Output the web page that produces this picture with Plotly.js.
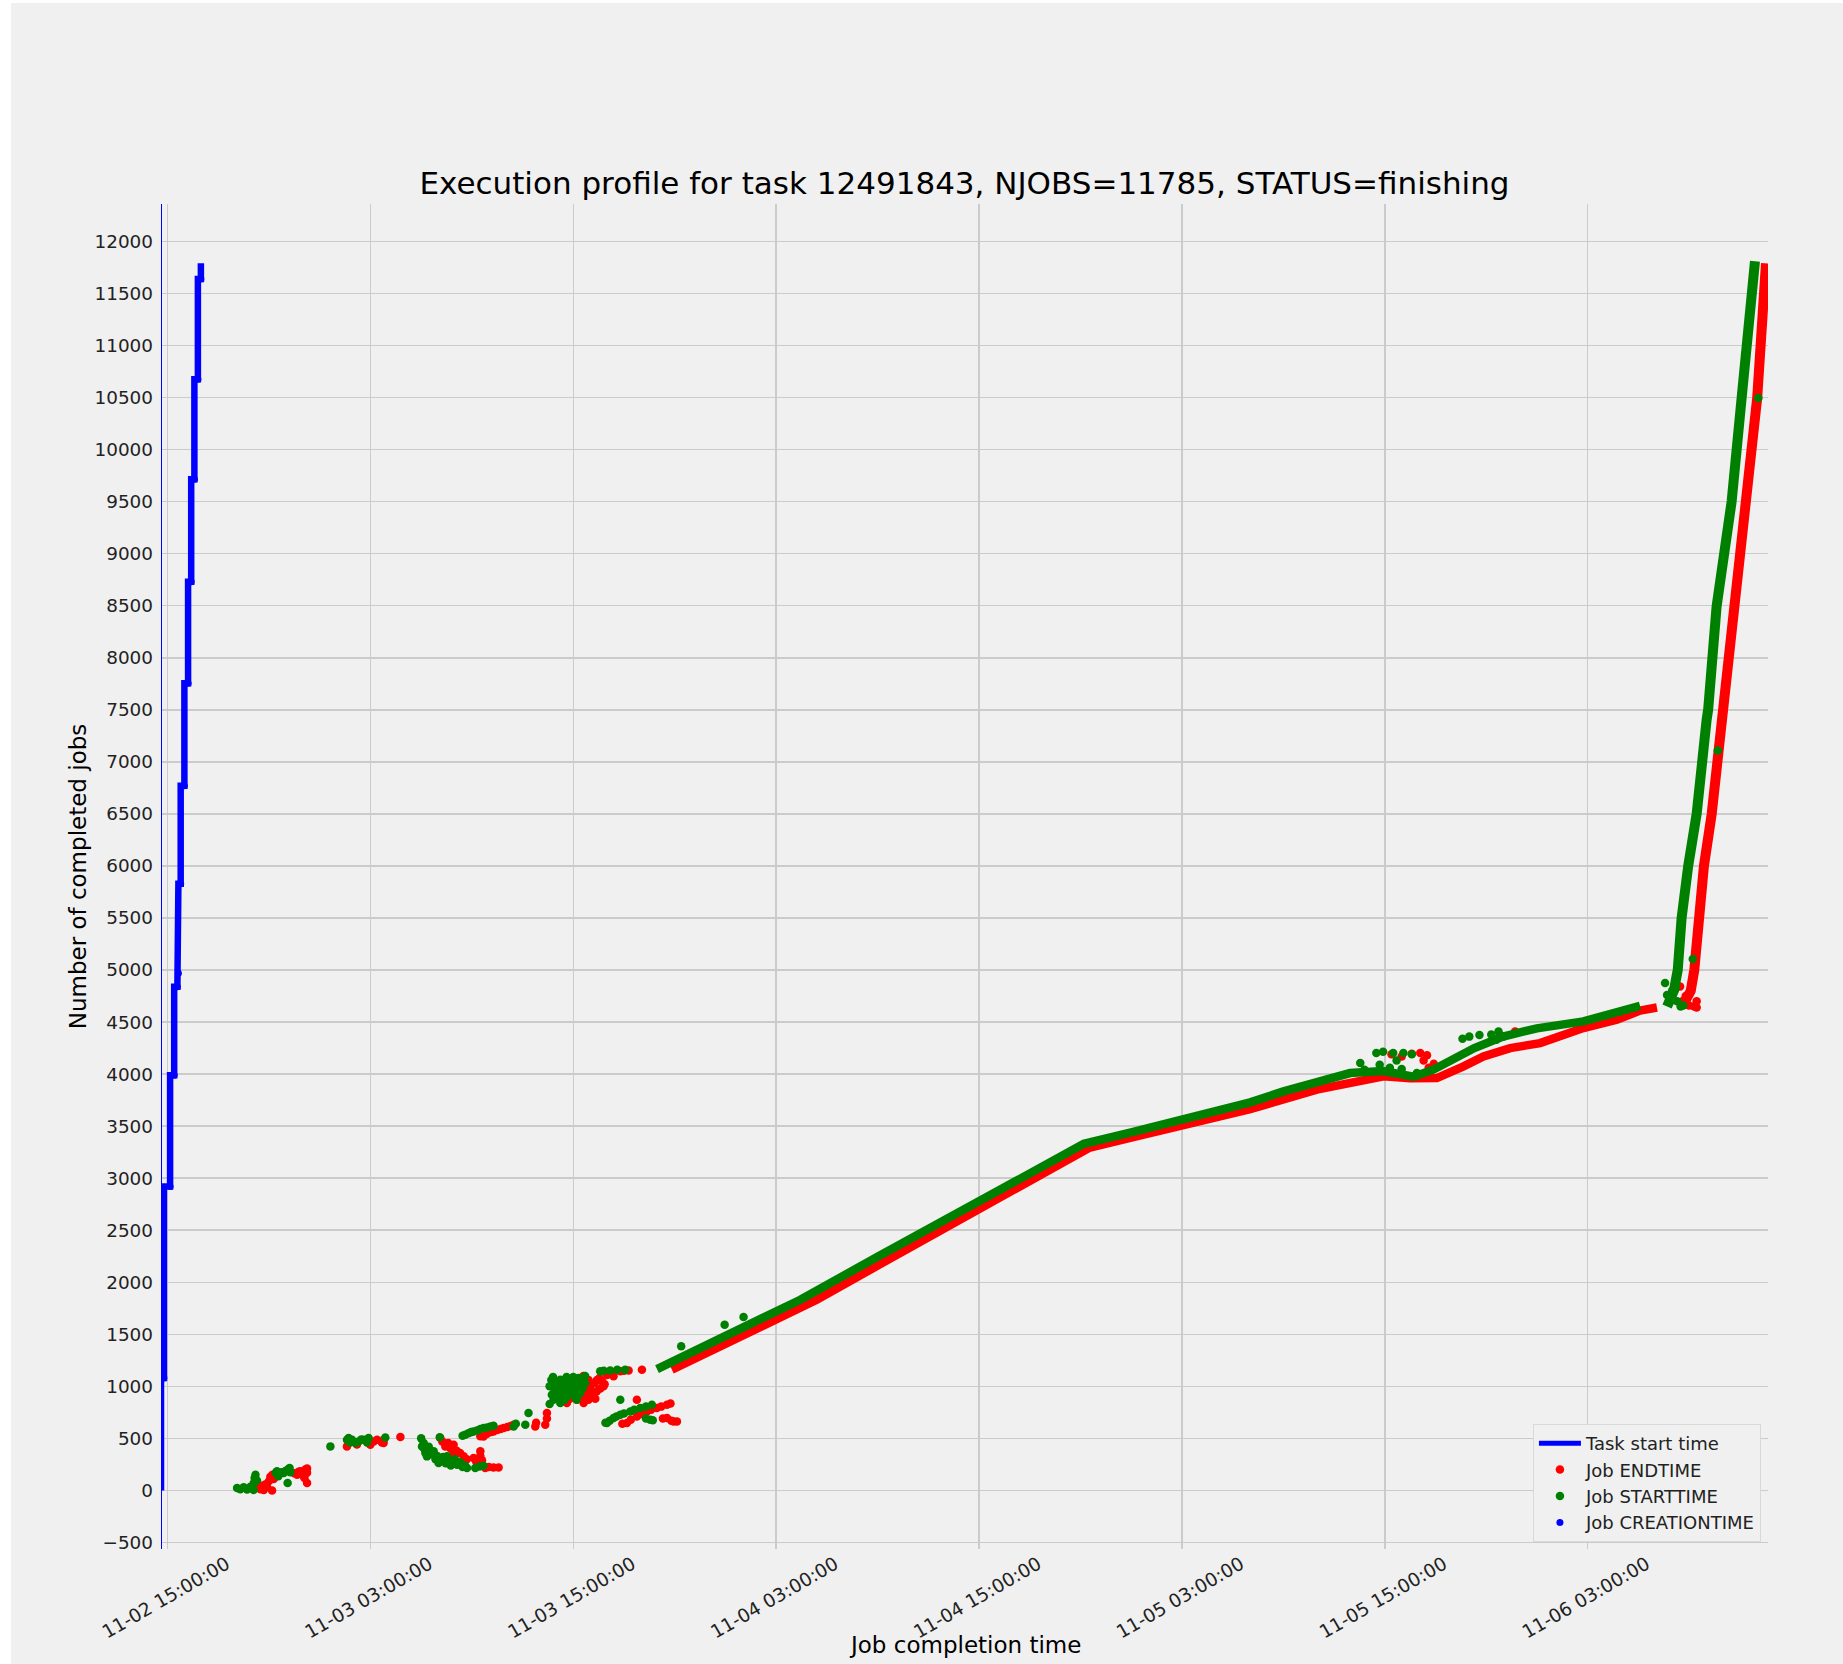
<!DOCTYPE html>
<html>
<head>
<meta charset="utf-8">
<script src="https://cdn.plot.ly/plotly-3.0.1.min.js"></script>
<style>
  html, body { margin: 0; padding: 0; background: #ffffff; overflow: hidden; }
  #chart { position: absolute; left: 11px; top: 3px; width: 1832px; height: 1661px; }
</style>
</head>
<body>
<div id="chart"></div>
<script>
// ---- time base: all times below are hours after 2018-11-02 15:00 ----
const BASE_TIME = Date.UTC(2018, 10, 2, 15, 0, 0);

// Task start time (hours)
const taskStartH = -0.39;

// Job CREATIONTIME: step positions (hours) and job-count boundaries
const creationStepH = [-0.39, -0.219, 0.148, 0.39, 0.58, 0.639, 0.775, 0.994, 1.212, 1.396, 1.585, 1.792, 1.969];
const creationStepJobs = [0, 1080, 2920, 3990, 4840, 4970, 5830, 6770, 7755, 8730, 9715, 10675, 11640, 11790];

// Job ENDTIME dense band (hours, jobs)
const endBandH    = [29.83, 34.0, 38.4, 42.0, 48.0, 52.0, 54.5, 57.0, 60.0, 64.04, 67.98, 71.93, 73.5, 75.08, 76.66, 77.84, 79.42, 81.19, 83.75, 85.73, 87.1, 88.1];
const endBandJobs = [1160, 1480, 1832, 2160, 2700, 3070, 3290, 3390, 3510, 3664, 3850, 3978, 3960, 3962, 4074, 4170, 4250, 4298, 4442, 4522, 4610, 4640];
const endClimbH    = [89.6, 90.1, 90.31, 90.54, 90.88, 91.34, 91.93, 92.07, 92.72, 93.37, 94.03, 94.55];
const endClimbJobs = [4650, 4800, 5000, 5500, 6000, 6500, 7405, 7502, 8494, 9503, 10496, 11790];

// Job STARTTIME dense band (hours, jobs)
const startBandH    = [28.95, 33.2, 37.43, 42.0, 48.0, 52.0, 54.2, 57.0, 60.0, 64.04, 66.01, 67.98, 69.95, 71.9, 73.7, 74.9, 76.3, 77.3, 79.0, 81.0, 83.75, 86.0, 87.1];
const startBandJobs = [1165, 1500, 1832, 2245, 2785, 3150, 3330, 3440, 3560, 3728, 3834, 3914, 4010, 4030, 3975, 4045, 4160, 4250, 4360, 4440, 4506, 4600, 4656];
const startClimbH    = [88.7, 89.1, 89.33, 89.56, 89.95, 90.45, 91.04, 91.13, 91.63, 92.52, 93.11, 93.9];
const startClimbJobs = [4650, 4800, 5000, 5500, 6000, 6500, 7405, 7502, 8494, 9503, 10496, 11810];

// Scattered ENDTIME points (hours, jobs)
const endDotsH = [
  5.40, 5.50, 5.60, 5.69, 5.80, 5.88, 6.00, 6.08, 6.18, 6.20, 6.28, 7.50, 7.66, 7.75, 7.85, 7.95, 8.05, 8.15, 8.25, 8.25, 8.25, 8.10,
  10.61, 11.20, 11.80, 11.99, 12.19, 12.39, 12.68, 12.78, 12.78, 13.77,
  16.13, 16.25, 16.43, 16.60, 16.75, 16.92, 16.92, 17.10, 17.30, 17.51, 17.70, 18.10, 18.25, 18.30, 18.50, 18.50, 18.60, 18.79, 19.00, 19.28, 19.58,
  18.50, 18.69, 18.90, 19.10, 19.28, 19.50, 19.70, 19.88, 20.10, 20.30, 20.47, 21.75, 21.80, 22.34, 22.44, 22.44,
  23.62, 23.80, 24.00, 24.21, 24.40, 24.61, 24.75, 24.90, 25.10, 25.25, 25.39, 25.55, 25.79, 26.00, 26.38, 26.78, 27.00, 27.27, 28.06, 24.90,
  24.10, 24.30, 24.50, 24.60, 24.80, 25.00, 25.20, 25.40, 25.60, 25.70, 25.85, 25.30,
  26.90, 27.17, 27.40, 27.76, 28.00, 28.35, 28.60, 28.94, 29.20, 29.54, 29.75, 27.76, 29.30, 29.54, 29.80, 29.93, 30.13,
  72.4, 73.0, 73.6, 74.1, 74.5, 74.9, 74.6, 74.3, 79.71,
  89.47, 89.6, 89.8, 90.0, 90.1, 90.3, 90.45, 90.45];
const endDotsJobs = [
  30, 10, 45, 5, 60, 38, 90, 130, 0, 150, 110, 165, 150, 180, 185, 160, 135, 200, 210, 170, 71, 120,
  423, 440, 480, 439, 470, 487, 460, 455, 487, 513,
  503, 470, 423, 455, 400, 439, 343, 380, 360, 327, 300, 311, 280, 263, 375, 330, 290, 215, 225, 221, 221,
  520, 519, 545, 560, 567, 580, 590, 599, 610, 620, 631, 615, 650, 631, 743, 690,
  839, 880, 930, 871, 950, 839, 990, 871, 940, 1030, 952, 1080, 1000, 1110, 1096, 1144, 1150, 1153, 1160, 1060,
  1000, 1050, 900, 1100, 930, 1000, 900, 1060, 980, 1050, 1020, 880,
  640, 647, 680, 711, 735, 759, 775, 791, 805, 823, 835, 871, 690, 695, 670, 663, 663,
  4190, 4170, 4195, 4202, 4180, 4100, 4060, 4130, 4410,
  4842, 4700, 4750, 4660, 4800, 4650, 4640, 4700];

// Scattered STARTTIME points (hours, jobs)
const startDotsH = [
  4.11, 4.30, 4.50, 4.70, 4.90, 5.09, 5.10, 5.15, 5.20, 5.29, 6.40, 6.47, 6.60, 6.75, 6.87, 7.00, 7.15, 7.22, 7.26, 7.10, 6.55,
  9.63, 10.61, 10.71, 10.80, 10.91, 11.11, 11.30, 11.46, 11.60, 11.80, 11.89, 12.88,
  15.00, 15.05, 15.15, 15.20, 15.25, 15.34, 15.45, 15.55, 15.65, 15.74, 15.85, 15.95, 16.03, 16.15, 16.30, 16.45, 16.53, 16.62, 16.75, 17.00, 17.12, 17.30, 17.45, 17.60, 17.71, 18.20, 18.45, 18.69, 16.10,
  17.45, 17.61, 17.80, 17.95, 18.10, 18.30, 18.50, 18.69, 18.90, 19.10, 19.28, 20.47, 20.60, 21.16, 21.35,
  22.60, 22.73, 22.83, 22.90, 23.00, 23.10, 23.23, 23.23, 23.40, 23.50, 23.62, 23.70, 23.82, 23.95, 24.05, 24.21, 24.35, 24.50, 24.61, 24.70, 25.59, 25.80, 26.18, 26.60, 27.07, 24.20,
  22.60, 22.70, 22.80, 22.90, 23.00, 23.10, 23.30, 23.35, 23.50, 23.60, 23.75, 23.90, 24.00, 24.10, 24.30, 24.40, 24.55, 24.70,
  25.90, 25.99, 26.15, 26.38, 26.55, 26.78, 27.00, 27.37, 27.60, 27.96, 28.30, 28.65, 26.78, 28.30, 28.55, 28.70,
  30.38, 32.95, 34.07,
  70.55, 70.8, 71.5, 71.9, 72.5, 73.1, 73.6, 71.7, 72.3, 73.0, 73.9, 72.7,
  76.6, 77.0, 77.6, 78.3, 79.0, 78.6, 78.73,
  88.58, 88.7, 88.9, 89.0, 89.2, 89.3, 89.5, 89.66, 90.22, 91.70, 94.1];
const startDotsJobs = [
  23, 10, 30, 8, 35, 5, 70, 120, 150, 95, 170, 185, 160, 175, 168, 190, 205, 215, 175, 72, 135,
  423, 487, 503, 460, 487, 455, 470, 490, 487, 460, 503, 509,
  500, 423, 455, 395, 360, 327, 420, 380, 345, 375, 300, 330, 263, 290, 320, 260, 327, 285, 240, 300, 247, 270, 225, 240, 215, 215, 230, 237, 510,
  525, 535, 550, 560, 567, 575, 590, 599, 605, 615, 622, 615, 640, 631, 743,
  830, 919, 871, 960, 900, 1000, 1064, 839, 950, 1040, 903, 1000, 1064, 960, 1040, 968, 1010, 1060, 1048, 1100, 1144, 1150, 1153, 1160, 1160, 870,
  1000, 1060, 1090, 1040, 980, 930, 1000, 900, 870, 1090, 940, 1010, 1090, 900, 1080, 930, 980, 1030,
  650, 647, 670, 695, 710, 727, 740, 759, 775, 791, 805, 823, 871, 690, 679, 675,
  1384, 1592, 1666,
  4106, 4042, 4202, 4214, 4202, 4202, 4190, 4090, 4060, 4050, 4010, 4130,
  4340, 4360, 4375, 4380, 4360, 4330, 4410,
  4875, 4760, 4700, 4800, 4820, 4700, 4650, 4660, 5105, 7110, 10496];

// Axis ranges and labels
const xRangeH = [-0.39, 94.67];
const yRange = [-563, 12360];
const titleText = 'Execution profile for task 12491843, NJOBS=11785, STATUS=finishing';
const xTitle = 'Job completion time';
const yTitle = 'Number of completed jobs';

// ---- helpers ----
function t(h) {
  return new Date(BASE_TIME + h * 3600000).toISOString().slice(0, 19).replace('T', ' ');
}
const T = arr => arr.map(t);

const RED = '#ff0000', GREEN = '#008000', BLUE = '#0000ff';
const FONT = 'DejaVu Sans, Verdana, sans-serif';
const TICK = 18.4;
const DOT = 8.5;

// creation step vertices
const cx = [], cy = [];
for (let i = 0; i < creationStepH.length; i++) {
  cx.push(t(creationStepH[i]), t(creationStepH[i]));
  cy.push(creationStepJobs[i], creationStepJobs[i + 1]);
}

const traces = [
  { x: [null], y: [null], type: 'scatter', mode: 'lines', name: 'Task start time',
    line: { color: BLUE, width: 5 }, legendgroup: 'task', hoverinfo: 'skip' },
  { x: [t(taskStartH), t(taskStartH)], y: [yRange[0] - 100, yRange[1] + 100], type: 'scatter', mode: 'lines',
    line: { color: BLUE, width: 2 }, showlegend: false, legendgroup: 'task', hoverinfo: 'skip' },

  { x: T(endDotsH), y: endDotsJobs, type: 'scatter', mode: 'markers', name: 'Job ENDTIME',
    marker: { color: RED, size: DOT }, legendgroup: 'end' },
  { x: T(endBandH), y: endBandJobs, type: 'scatter', mode: 'lines', showlegend: false,
    line: { color: RED, width: 8.5 }, legendgroup: 'end' },
  { x: T(endClimbH), y: endClimbJobs, type: 'scatter', mode: 'lines', showlegend: false,
    line: { color: RED, width: 10 }, legendgroup: 'end' },

  { x: T(startBandH), y: startBandJobs, type: 'scatter', mode: 'lines', showlegend: false,
    line: { color: GREEN, width: 8.5 }, legendgroup: 'start' },
  { x: T(startClimbH), y: startClimbJobs, type: 'scatter', mode: 'lines', showlegend: false,
    line: { color: GREEN, width: 10 }, legendgroup: 'start' },
  { x: T(startDotsH), y: startDotsJobs, type: 'scatter', mode: 'markers', name: 'Job STARTTIME',
    marker: { color: GREEN, size: DOT }, legendgroup: 'start' },

  { x: cx, y: cy, type: 'scatter', mode: 'lines', showlegend: false,
    line: { color: BLUE, width: 6.5 }, legendgroup: 'creation' },
  { x: T(creationStepH.slice(1)), y: creationStepJobs.slice(1, creationStepH.length), type: 'scatter', mode: 'markers',
    name: 'Job CREATIONTIME', marker: { color: BLUE, size: 7 }, legendgroup: 'creation' }
];

const layout = {
  width: 1832, height: 1661,
  paper_bgcolor: '#f0f0f0', plot_bgcolor: '#f0f0f0',
  margin: { l: 150, r: 75, t: 201, b: 115, pad: 0 },
  separators: '.',
  font: { family: FONT, size: TICK, color: '#222222' },
  title: { text: titleText, font: { family: FONT, size: 31, color: '#000000' },
           x: 0.5, xref: 'paper', xanchor: 'center', y: 0.8913, yref: 'container', yanchor: 'middle' },
  showlegend: true,
  legend: { x: 0.9956, y: 0.0052, xanchor: 'right', yanchor: 'bottom',
            bgcolor: '#f0f0f0', bordercolor: '#d9d9d9', borderwidth: 1,
            font: { family: FONT, size: 18, color: '#222222' }, itemwidth: 42, traceorder: 'normal' },
  xaxis: {
    type: 'date', range: [t(xRangeH[0]), t(xRangeH[1])],
    tick0: t(0), dtick: 43200000, tickformat: '%m-%d %H:%M:%S',
    tickangle: -30, ticklabelshift: 59, ticks: '',
    tickfont: { family: FONT, size: 18.6, color: '#222222' },
    showgrid: true, gridcolor: '#cbcbcb', gridwidth: 1.5, zeroline: false, showline: false,
    automargin: false
  },
  yaxis: {
    range: yRange, tick0: 0, dtick: 500, ticks: '', ticklabelstandoff: 7,
    exponentformat: 'none',
    tickfont: { family: FONT, size: TICK, color: '#222222' },
    showgrid: true, gridcolor: '#cbcbcb', gridwidth: 1.5, zeroline: false, showline: false,
    automargin: true,
    title: { text: yTitle, standoff: 1, font: { family: FONT, size: 23, color: '#000000' } }
  },
  annotations: [
    { text: xTitle, xref: 'paper', yref: 'paper', x: 0.5, y: -0.0716, xanchor: 'center', yanchor: 'middle',
      showarrow: false, font: { family: FONT, size: 23, color: '#000000' } }
  ],
  hovermode: false
};

Plotly.newPlot('chart', traces, layout, { displayModeBar: false, staticPlot: true });
</script>
</body>
</html>
